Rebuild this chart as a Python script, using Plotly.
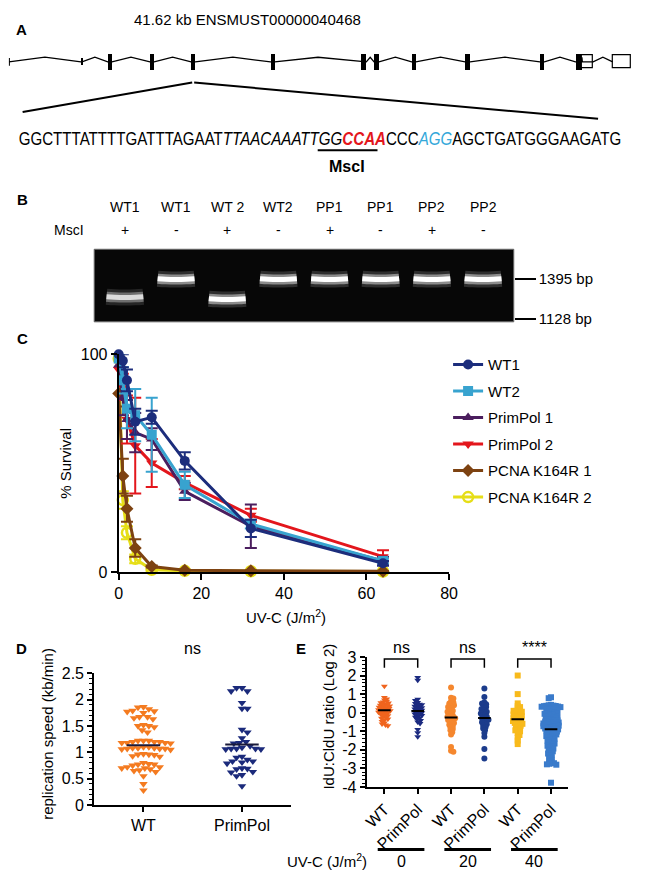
import numpy as np
import plotly.graph_objects as go

W, H = 661, 882
def px(v): return v / W
def py(v): return 1 - v / H

FONT = "Liberation Sans, Arial, sans-serif"

# ---------------- Panel A: gene model (kb along transcript) ----------------
transcript_kb = 41.62
exon_kb = [4.85, 6.75, 9.57, 12.32, 17.63, 23.73, 24.58, 27.07, 30.67, 35.65, 38.08]
exon_w = [0.07, 0.28, 0.28, 0.28, 0.28, 0.33, 0.33, 0.28, 0.33, 0.30, 0.40]
exon_h = [0.45, 1, 1, 1, 1, 1, 1, 1, 1, 1, 1]
utr_kb = [38.70, 40.99]
utr_w = [0.72, 1.25]
utr_h = [0.8, 0.8]
zoom_exon = 3  # index of exon expanded below

# ---------------- Panel B: gel ----------------
lanes = [1, 2, 3, 4, 5, 6, 7, 8]
lane_names = ["WT1", "WT1", "WT 2", "WT2", "PP1", "PP1", "PP2", "PP2"]
mscI = ["+", "-", "+", "-", "+", "-", "+", "-"]
band_bp = [1264, 1390, 1251, 1390, 1390, 1390, 1390, 1390]
band_int = [0.75, 1, 1, 1, 1, 1, 1, 1]
ladder_bp = [1395, 1128]

# ---------------- Panel C: survival ----------------
doses = [0, 1, 2, 4, 8, 16, 32, 64]
series = [
    ("WT1", "#1C2D7C", "circle",
     [100, 97, 88, 69, 71, 51, 20, 4], [1, 3, 5, 6, 3, 4, 4, 1]),
    ("WT2", "#38A3CF", "square",
     [98, 88, 75, 72, 63, 40, 22, 5], [2, 6, 9, 12, 17, 6, 2, 1]),
    ("PrimPol 1", "#4B1E5E", "triangle-up",
     [95, 80, 70, 64, 61, 37, 21, 5], [4, 8, 9, 9, 5, 4, 10, 2]),
    ("PrimPol 2", "#E3161C", "triangle-down",
     [93, 85, 70, 58, 50, 41, 26, 7], [3, 6, 11, 22, 11, 3, 3, 3]),
    ("PCNA K164R 1", "#7D4211", "diamond",
     [82, 44, 29, 11, 2.5, 0.8, 0.5, 0.3], [6, 8, 6, 4, 0.5, 0.2, 0.1, 0.1]),
    ("PCNA K164R 2", "#E6DE18", "circle-open",
     [98, 33, 18, 6, 1, 0.5, 0.3, 0.2], [2, 4, 3, 2, 0.5, 0.1, 0.1, 0.1]),
]

# ---------------- Panel D: replication speed ----------------
d_cats = ["WT", "PrimPol"]
d_wt = [1.85, 1.86, 1.82, 1.78, 1.75, 1.77, 1.79, 1.67, 1.63, 1.65, 1.67, 1.52, 1.48,
        1.50, 1.50, 1.38, 1.42, 1.20, 1.18, 1.20, 1.18, 1.17, 1.22, 1.18, 1.20, 1.22,
        1.22, 1.08, 1.06, 1.05, 1.07, 1.10, 1.08, 1.07, 1.10, 1.07, 1.08, 0.95, 0.92,
        0.97, 0.93, 0.96, 0.96, 0.78, 0.77, 0.75, 0.72, 0.70, 0.72, 0.70, 0.77, 0.80,
        0.66, 0.63, 0.65, 0.68, 0.55, 0.40, 0.28]
d_pp = [2.22, 2.22, 2.16, 2.16, 1.94, 1.83, 1.83, 1.43, 1.38, 1.27, 1.20, 1.17, 1.18,
        1.07, 1.06, 1.07, 1.06, 1.07, 1.09, 1.12, 0.90, 0.92, 0.83, 0.79, 0.86, 0.81,
        0.83, 0.69, 0.70, 0.68, 0.62, 0.57, 0.55, 0.63, 0.36]
d_colors = ["#F47B20", "#1B2A7B"]

# ---------------- Panel E: IdU:CldU ratio ----------------
e_labels = ["WT", "PrimPol", "WT", "PrimPol", "WT", "PrimPol"]
e_doses = ["0", "20", "40"]
e_sig = ["ns", "ns", "****"]
e_wt0 = [1.42, 0.82, 0.74, 0.68, 0.61, 0.57, 0.53, 0.52, 0.47, 0.44, 0.41, 0.40, 0.36,
         0.33, 0.31, 0.29, 0.27, 0.22, 0.20, 0.19, 0.16, 0.13, 0.11, 0.09, 0.06, 0.03,
         0.01, -0.02, -0.06, -0.09, -0.13, -0.17, -0.21, -0.26, -0.30, -0.34, -0.41,
         -0.47, -0.55, -0.61, -0.66, -0.70]
e_pp0 = [1.90, 1.74, 0.72, 0.65, 0.55, 0.50, 0.46, 0.43, 0.38, 0.35, 0.30, 0.27, 0.23,
         0.20, 0.17, 0.13, 0.10, 0.07, 0.04, 0.00, -0.03, -0.07, -0.10, -0.15, -0.20,
         -0.24, -0.30, -0.35, -0.42, -0.50, -0.58, -0.90, -1.08, -1.29]
e_wt20 = [1.36, 0.80, 0.76, 0.60, 0.55, 0.50, 0.45, 0.40, 0.33, 0.30, 0.22, 0.15, 0.10,
          0.05, -0.05, -0.10, -0.15, -0.20, -0.22, -0.28, -0.30, -0.35, -0.40, -0.45,
          -0.50, -0.55, -0.60, -0.65, -0.72, -0.80, -0.88, -0.95, -1.05, -1.17, -1.85,
          -2.05, -2.10]
e_pp20 = [1.30, 0.85, 0.55, 0.50, 0.45, 0.38, 0.30, 0.25, 0.20, 0.12, 0.05, 0.00, -0.05,
          -0.10, -0.15, -0.20, -0.25, -0.30, -0.35, -0.38, -0.42, -0.48, -0.52, -0.58,
          -0.62, -0.70, -0.78, -0.85, -0.95, -1.10, -1.30, -1.95, -2.47]
e_wt40 = [2.00, 1.00, 0.50, 0.35, 0.30, 0.22, 0.15, 0.10, 0.10, 0.05, 0.00, -0.05, -0.10,
          -0.10, -0.15, -0.20, -0.20, -0.25, -0.30, -0.30, -0.35, -0.40, -0.40, -0.45,
          -0.50, -0.50, -0.55, -0.60, -0.60, -0.65, -0.70, -0.75, -0.78, -0.85, -0.92,
          -0.95, -1.00, -1.10, -1.20, -1.35, -1.50, -1.69]
e_pp40 = [0.83, 0.78, 0.42, 0.40, 0.38, 0.37, 0.36, 0.35, 0.33, 0.32, 0.30, 0.28, 0.25,
          0.22, 0.20, 0.18, 0.15, 0.12, 0.10, 0.05, 0.02, 0.00, -0.03, -0.05, -0.06,
          -0.10, -0.12, -0.15, -0.18, -0.20, -0.22, -0.24, -0.27, -0.30, -0.33, -0.36,
          -0.38, -0.40, -0.42, -0.45, -0.48, -0.50, -0.52, -0.53, -0.56, -0.58, -0.60,
          -0.62, -0.65, -0.66, -0.68, -0.70, -0.72, -0.73, -0.76, -0.80, -0.82, -0.84,
          -0.85, -0.88, -0.90, -0.93, -0.95, -0.96, -1.00, -1.02, -1.05, -1.08, -1.10,
          -1.14, -1.17, -1.20, -1.23, -1.26, -1.30, -1.33, -1.36, -1.40, -1.43, -1.46,
          -1.50, -1.54, -1.58, -1.62, -1.66, -1.70, -1.74, -1.78, -1.83, -1.88, -1.93,
          -1.98, -2.03, -2.08, -2.14, -2.20, -2.26, -2.32, -2.40, -2.48, -2.55, -2.62,
          -2.68, -2.72, -2.75, -2.78, -2.80, -3.77]
e_groups = [e_wt0, e_pp0, e_wt20, e_pp20, e_wt40, e_pp40]
e_colors = ["#F0641E", "#1B2A80", "#F5872E", "#1C3C8C", "#F8BA1C", "#3A7BCB"]
e_symbols = ["triangle-down", "triangle-down", "circle", "circle", "square", "square"]


def swarm(vals, ypx, xpx, d, step=0.25):
    vals = np.asarray(vals, float)
    order = np.argsort(-vals, kind="stable")
    placed = []
    off = np.zeros(len(vals))
    for n, i in enumerate(order):
        y = vals[i] * ypx
        k = 0
        found = None
        while found is None:
            if k == 0:
                cands = [0.0]
            else:
                s = k * d * step
                cands = [s, -s] if n % 2 == 0 else [-s, s]
            for xx in cands:
                if all((xx - a) ** 2 + (y - b) ** 2 >= d * d for a, b in placed):
                    found = xx
                    break
            k += 1
        placed.append((found, y))
        off[i] = found / xpx
    return off


fig = go.Figure()

# ---- gene model ----
feat = sorted([(c - w / 2, c + w / 2) for c, w in zip(exon_kb, exon_w)] +
              [(c - w / 2, c + w / 2) for c, w in zip(utr_kb, utr_w)])
feat = [(0.0, 0.0)] + feat
ix, iy = [], []
for (a0, a1), (b0, b1) in zip(feat[:-1], feat[1:]):
    ix += [a1, (a1 + b0) / 2, b0]
    iy += [0, 0.6, 0]
fig.add_trace(go.Scatter(x=ix, y=iy, mode="lines", line=dict(color="black", width=1.3),
                         xaxis="x4", yaxis="y4", showlegend=False, hoverinfo="skip"))
fig.add_trace(go.Scatter(x=[0, 0], y=[-0.5, 0.5], mode="lines", line=dict(color="black", width=2),
                         xaxis="x4", yaxis="y4", showlegend=False, hoverinfo="skip"))
fig.add_trace(go.Bar(x=exon_kb, y=[2 * h for h in exon_h], base=[-h for h in exon_h], width=exon_w,
                     marker=dict(color="black", line=dict(width=0)), xaxis="x4", yaxis="y4",
                     showlegend=False, hoverinfo="skip"))
fig.add_trace(go.Bar(x=utr_kb, y=[2 * h for h in utr_h], base=[-h for h in utr_h], width=utr_w,
                     marker=dict(color="white", line=dict(width=1.2, color="black")),
                     xaxis="x4", yaxis="y4", showlegend=False, hoverinfo="skip"))

# ---- gel bands ----
for ln, bp, inten in zip(lanes, band_bp, band_int):
    for wdt, alpha in [(16, 0.16), (10, 0.45), (5, 1.0)]:
        a = alpha * inten
        fig.add_trace(go.Scatter(x=[ln - 0.36, ln - 0.2, ln + 0.2, ln + 0.36],
                                 y=[bp * 1.003, bp, bp, bp * 1.003], mode="lines",
                                 line=dict(color=f"rgba(255,255,255,{a:.2f})", width=wdt, shape="spline"),
                                 xaxis="x5", yaxis="y5", showlegend=False, hoverinfo="skip"))

# ---- panel C ----
for rank, (name, col, sym, vals, err) in reversed(list(enumerate(series))):
    fig.add_trace(go.Scatter(
        x=doses, y=vals, name=name, mode="lines+markers",
        line=dict(color=col, width=3),
        marker=dict(symbol=sym, size=10, color=col, line=dict(width=2.5 if "open" in sym else 0, color=col)),
        error_y=dict(type="data", array=err, visible=True, color=col, thickness=2, width=6),
        cliponaxis=False, xaxis="x", yaxis="y", legendrank=rank, legendgroup=name))

# ---- panel D ----
d_groups = [d_wt, d_pp]
for k, (vals, col) in enumerate(zip(d_groups, d_colors)):
    off = swarm(vals, 53.8, 100, 5.5)
    fig.add_trace(go.Scatter(x=k + off, y=vals, mode="markers",
                             marker=dict(symbol="triangle-down", size=7.5, color=col),
                             cliponaxis=False, xaxis="x2", yaxis="y2", showlegend=False))
for k, vals in enumerate(d_groups):
    m = float(np.mean(vals))
    fig.add_trace(go.Scatter(x=[k - 0.17, k + 0.17], y=[m, m], mode="lines",
                             line=dict(color="#1a1a3a", width=2), xaxis="x2", yaxis="y2",
                             showlegend=False))

# ---- panel E ----
for k, (vals, col, sym) in enumerate(zip(e_groups, e_colors, e_symbols)):
    off = swarm(vals, 19.14, 34, 2.4)
    fig.add_trace(go.Scatter(x=k + off, y=vals, mode="markers",
                             marker=dict(symbol=sym, size=6, color=col),
                             cliponaxis=False, xaxis="x3", yaxis="y3", showlegend=False))
for k, vals in enumerate(e_groups):
    m = float(np.mean(vals))
    fig.add_trace(go.Scatter(x=[k - 0.19, k + 0.19], y=[m, m], mode="lines",
                             line=dict(color="black", width=2), xaxis="x3", yaxis="y3",
                             showlegend=False))

ax_common = dict(showline=True, linecolor="black", linewidth=2, ticks="outside",
                 tickcolor="black", tickwidth=2, showgrid=False, zeroline=False)

shapes = []
shapes.append(dict(type="rect", xref="x5 domain", yref="y5 domain", x0=0, x1=1, y0=0, y1=1,
                   fillcolor="#070707", line=dict(color="#6a6a6a", width=1), layer="below"))
ex_px = 5 + (exon_kb[zoom_exon] / transcript_kb) * 635
shapes.append(dict(type="line", xref="paper", yref="paper", x0=px(ex_px - 1), y0=py(76), x1=px(19), y1=py(106),
                   line=dict(color="black", width=2)))
shapes.append(dict(type="line", xref="paper", yref="paper", x0=px(ex_px + 1), y0=py(76), x1=px(606), y1=py(113),
                   line=dict(color="black", width=2)))
shapes.append(dict(type="line", xref="paper", yref="paper", x0=px(320), x1=px(381), y0=py(145), y1=py(145),
                   line=dict(color="black", width=2)))
shapes.append(dict(type="path", xref="x2", yref="y2", path="M 0,2.54 L 0,2.69 L 1,2.69 L 1,2.54",
                   line=dict(color="black", width=1.5)))
for j in range(3):
    a, b = 2 * j, 2 * j + 1
    shapes.append(dict(type="path", xref="x3", yref="y3",
                       path=f"M {a},2.42 L {a},2.89 L {b},2.89 L {b},2.42",
                       line=dict(color="black", width=1.5)))
    shapes.append(dict(type="line", xref="x3", yref="paper", x0=a - 0.2, x1=b + 0.2, y0=py(858), y1=py(858),
                       line=dict(color="black", width=3)))

ann = []
def A(x, y, text, size=15, bold=False, **kw):
    d = dict(x=x, y=y, text=f"<b>{text}</b>" if bold else text, showarrow=False,
             xanchor="center", yanchor="middle", xref="paper", yref="paper",
             font=dict(size=size, family=FONT, color="black"))
    d.update(kw)
    ann.append(d)

A(px(18), py(22), "A", 15, True)
A(px(19), py(195), "B", 15, True)
A(px(19), py(337), "C", 15, True)
A(px(18), py(653), "D", 15, True)
A(px(303), py(653), "E", 15, True)
A(px(248), py(12), "41.62 kb ENSMUST00000040468", 15)
seq = ("GGCTTTATTTTGATTTAGAAT<i>TTAACAAATTGG</i>"
       "<i><b><span style='color:#E3161C'>CCAA</span></b></i>CCC"
       "<i><span style='color:#35A8DA'>AGG</span></i>AGCTGATGGGAAGATG")
A(px(322), py(133), seq, 19)
A(px(350), py(162), "MscI", 16, True)
for ln, nm, sg in zip(lanes, lane_names, mscI):
    A(ln, py(203), nm, 14, xref="x5")
    A(ln, py(226), sg, 14, xref="x5")
A(px(66), py(226), "MscI", 14)
A(px(62), py(464), "% Survival", 15, textangle=-90)
A(px(288), py(620), "UV-C (J/m<sup>2</sup>)", 15)
A(px(45), py(740), "replication speed (kb/min)", 15, textangle=-90)
A(0.5, py(653), "ns", 16, xref="x2")
A(px(331), py(722), "IdU:CldU ratio (Log 2)", 15, textangle=-90)
for j in range(3):
    A(2 * j + 0.5, py(652), e_sig[j], 16, xref="x3")
    A(2 * j + 0.5, py(870), e_doses[j], 16, xref="x3")
A(px(372), py(869), "UV-C (J/m<sup>2</sup>)", 15, xanchor="right")

e_ticks = list(range(-4, 4))
fig.update_layout(
    width=W, height=H, margin=dict(l=0, r=0, t=0, b=0),
    paper_bgcolor="white", plot_bgcolor="rgba(0,0,0,0)",
    font=dict(family=FONT, color="black", size=15),
    barmode="overlay", bargap=0,
    showlegend=True,
    legend=dict(x=px(453), y=py(347), xanchor="left", yanchor="top", font=dict(size=15),
                tracegroupgap=4, bgcolor="rgba(0,0,0,0)", itemclick=False),
    xaxis=dict(domain=[px(117), px(454)], range=[0, 80], tickvals=[0, 20, 40, 60, 80],
               tickfont=dict(size=16), ticklen=6, anchor="y", **ax_common),
    yaxis=dict(domain=[py(575), py(353)], range=[0, 100], tickvals=[0, 100],
               tickfont=dict(size=16), ticklen=6, anchor="x", **ax_common),
    xaxis2=dict(domain=[px(92), px(293)], range=[-0.5, 1.5], tickvals=[0, 1], ticktext=d_cats,
                tickfont=dict(size=16), ticklen=5, anchor="y2", **ax_common),
    yaxis2=dict(domain=[py(812.7), py(678.3)], range=[0, 2.5], dtick=0.5, tickfont=dict(size=16),
                ticklen=5, anchor="x2",
                minor=dict(ticks="outside", dtick=0.1, ticklen=3, tickcolor="black", tickwidth=1),
                **ax_common),
    xaxis3=dict(domain=[px(370), px(575)], range=[-0.53, 5.5], tickvals=list(range(6)), ticktext=e_labels,
                tickangle=-45, tickfont=dict(size=16), ticklen=5, anchor="y3", **ax_common),
    yaxis3=dict(domain=[py(794.3), py(661.7)], range=[-4, 3], tickvals=e_ticks,
                ticktext=[str(t) for t in e_ticks], tickfont=dict(size=16), ticklen=5, anchor="x3",
                minor=dict(ticks="outside", dtick=0.2, ticklen=3, tickcolor="black", tickwidth=1),
                **ax_common),
    xaxis4=dict(domain=[px(5), px(640)], range=[0, transcript_kb], visible=False, anchor="y4"),
    yaxis4=dict(domain=[py(70), py(40)], range=[-1.875, 1.875], visible=False, anchor="x4"),
    xaxis5=dict(domain=[px(92), px(520)], range=[0.4, 8.6], visible=False, anchor="y5"),
    yaxis5=dict(domain=[py(320), py(246)], type="log", range=[3.0456, 3.2121], side="right",
                tickvals=ladder_bp, ticktext=[f"{b} bp" for b in ladder_bp], ticks="outside",
                ticklen=21, tickwidth=2, tickcolor="black", tickfont=dict(size=15),
                showline=False, showgrid=False, zeroline=False, anchor="x5"),
    shapes=shapes, annotations=ann,
)

post = """
document.body.style.margin = '0px';
document.documentElement.style.overflow = 'hidden';
try {
  var ts = document.querySelectorAll('text.annotation-text');
  ts.forEach(function(t){
    if (t.textContent.indexOf('GGCTTTATTTTG') === 0) {
      var bb = t.getBBox();
      var cx = bb.x + bb.width / 2;
      var s = 603 / bb.width;
      t.setAttribute('transform', 'translate(' + cx + ',0) scale(' + s + ',1) translate(' + (-cx) + ',0)');
    }
  });
} catch (e) {}
"""
fig.write_html("out.html", config={"displayModeBar": False}, post_script=post)
